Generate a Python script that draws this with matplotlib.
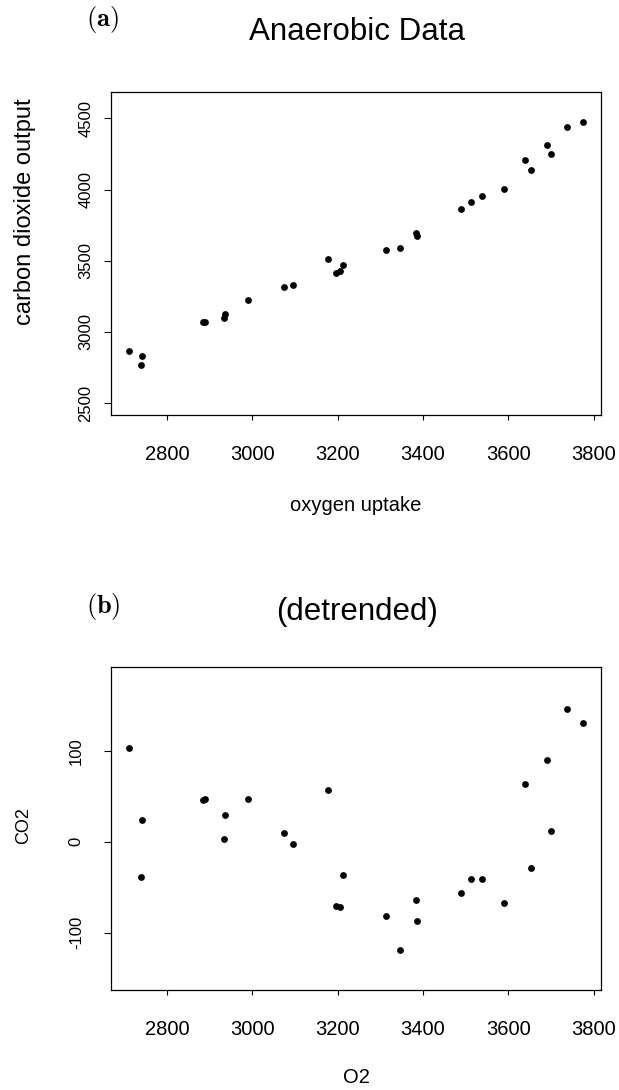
import matplotlib
matplotlib.use("Agg")
import matplotlib.pyplot as plt

plt.rcParams['font.family'] = ['Liberation Sans', 'DejaVu Sans']
plt.rcParams['mathtext.fontset'] = 'cm'
plt.rcParams['axes.unicode_minus'] = False

# values (anaerobic threshold data)
o2 = [2712, 2739, 2741, 2884, 2890, 2934, 2936, 2990, 3075, 3095,
      3177, 3195, 3206, 3213, 3313, 3346, 3383, 3385, 3488, 3513,
      3539, 3589, 3639, 3653, 3691, 3701, 3737, 3774]
co2 = [2863, 2765, 2828, 3067, 3067, 3095, 3125, 3221, 3313, 3327,
       3509, 3411, 3425, 3467, 3573, 3587, 3694, 3671, 3861, 3910,
       3952, 4001, 4205, 4135, 4310, 4247, 4437, 4472]
# residuals from the linear fit, as plotted in panel (b)
co2_detrended = [103, -39, 24, 46, 47, 3, 30, 47, 10, -2,
                 57, -71, -72, -36, -82, -119, -64, -87, -56, -41,
                 -41, -67, 64, -29, 90, 12, 146, 131]

x_ticks = [2800, 3000, 3200, 3400, 3600, 3800]
y_ticks_a = [2500, 3000, 3500, 4000, 4500]
y_ticks_b = [-100, 0, 100]

W, H = 619, 1090
fig = plt.figure(figsize=(W / 100, H / 100), dpi=100)


def px_rect(left, top, right, bottom):
    return [left / W, 1 - bottom / H, (right - left) / W, (bottom - top) / H]


def style_axes(ax, ylab_pad):
    for s in ax.spines.values():
        s.set_linewidth(0.9)
    ax.tick_params(axis='x', direction='out', length=3.6, width=0.8,
                   labelsize=14.5, pad=18)
    ax.tick_params(axis='y', direction='out', length=4.8, width=0.8,
                   labelsize=12, pad=ylab_pad, labelrotation=90)
    for lab in ax.get_yticklabels():
        lab.set_va('center')


# panel (a)
ax1 = fig.add_axes(px_rect(111.3, 92.3, 600.7, 415))
ax1.scatter(o2, co2, s=24, color='black', linewidths=0)
ax1.set_xlim(2669.5, 3816.4)
ax1.set_ylim(2416, 4683)
ax1.set_xticks(x_ticks)
ax1.set_yticks(y_ticks_a)
style_axes(ax1, 8)
ax1.set_xlabel('oxygen uptake', fontsize=14.5)
ax1.xaxis.set_label_coords(0.5, -0.279)
ax1.xaxis.label.set_va('center')
ax1.set_ylabel('carbon dioxide output', fontsize=17)
ax1.yaxis.set_label_coords(-0.176, 0.63)
ax1.yaxis.label.set_va('center')

# panel (b)
ax2 = fig.add_axes(px_rect(111.3, 667.3, 600.7, 990))
ax2.scatter(o2, co2_detrended, s=24, color='black', linewidths=0)
ax2.set_xlim(2669.5, 3816.4)
ax2.set_ylim(-163, 192)
ax2.set_xticks(x_ticks)
ax2.set_yticks(y_ticks_b)
style_axes(ax2, 15)
ax2.set_xlabel('O2', fontsize=14.5)
ax2.xaxis.set_label_coords(0.5, -0.27)
ax2.xaxis.label.set_va('center')
ax2.set_ylabel('CO2', fontsize=13)
ax2.yaxis.set_label_coords(-0.18, 0.51)
ax2.yaxis.label.set_va('center')

# titles and panel letters
fig.text(357 / W, 1 - 40 / H, 'Anaerobic Data', fontsize=22.5,
         ha='center', va='baseline')
fig.text(357 / W, 1 - 620 / H, '(detrended)', fontsize=22.5,
         ha='center', va='baseline')
fig.text(102 / W, 1 - 26 / H, r'$\mathbf{(a)}$', fontsize=19,
         ha='center', va='baseline')
fig.text(103 / W, 1 - 613 / H, r'$\mathbf{(b)}$', fontsize=19,
         ha='center', va='baseline')

fig.savefig('out.png', dpi=100)
